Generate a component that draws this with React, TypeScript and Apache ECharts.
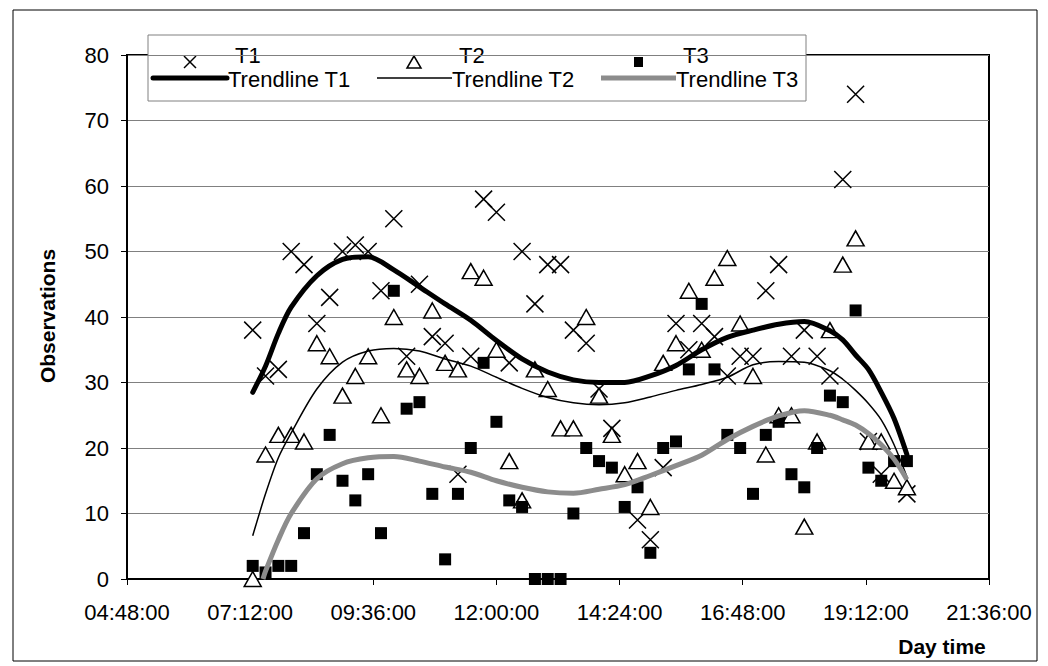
import React, { useEffect, useRef } from "react";
import * as echarts from "echarts";

// Observation slots (every 15 min)
const slotTimes = [
  "07:15", "07:30", "07:45", "08:00", "08:15", "08:30", "08:45", "09:00", "09:15", "09:30",
  "09:45", "10:00", "10:15", "10:30", "10:45", "11:00", "11:15", "11:30", "11:45", "12:00",
  "12:15", "12:30", "12:45", "13:00", "13:15", "13:30", "13:45", "14:00", "14:15", "14:30",
  "14:45", "15:00", "15:15", "15:30", "15:45", "16:00", "16:15", "16:30", "16:45", "17:00",
  "17:15", "17:30", "17:45", "18:00", "18:15", "18:30", "18:45", "19:00", "19:15", "19:30",
  "19:45", "20:00",
];

const t1Values = [
  38, 31, 32, 50, 48, 39, 43, 50, 51, 50,
  44, 55, 34, 45, 37, 36, 16, 34, 58, 56,
  33, 50, 42, 48, 48, 38, 36, 29, 23, null,
  9, 6, 17, 39, 35, 39, 37, 31, 34, 34,
  44, 48, 34, 38, 34, 31, 61, 74, 21, 16,
  null, 13,
];

const t2Values = [
  0, 19, 22, 22, 21, 36, 34, 28, 31, 34,
  25, 40, 32, 31, 41, 33, 32, 47, 46, 35,
  18, 12, 32, 29, 23, 23, 40, 28, 22, 16,
  18, 11, 33, 36, 44, 35, 46, 49, 39, 31,
  19, 25, 25, 8, 21, 38, 48, 52, 21, 21,
  15, 14,
];

const t3Values = [
  2, 1, 2, 2, 7, 16, 22, 15, 12, 16,
  7, 44, 26, 27, 13, 3, 13, 20, 33, 24,
  12, 11, 0, 0, 0, 10, 20, 18, 17, 11,
  14, 4, 20, 21, 32, 42, 32, 22, 20, 13,
  22, 24, 16, 14, 20, 28, 27, 41, 17, 15,
  18, 18,
];

// Trendlines
const trendTimes = [
  "07:15", "07:30", "07:45", "08:00", "08:30", "09:00", "09:30", "10:00", "10:30", "11:00",
  "11:30", "12:00", "12:30", "13:00", "13:30", "14:00", "14:30", "15:00", "15:30", "16:00",
  "16:30", "17:00", "17:30", "18:00", "18:30", "18:45", "19:00", "19:15", "19:30", "19:45",
  "20:00",
];
const trend1Values = [
  28.5, 32.5, 37.5, 41.5, 46.3, 48.8, 49.2, 47.2, 44.6, 42, 39.5, 36.4, 33.6, 31.6, 30.4, 30,
  30, 31, 32.6, 35, 36.9, 38, 38.9, 39.3, 37.9, 36.5, 34.2, 32, 28.5, 24.5, 19,
];
const trend2Values = [
  6.6, 13, 18.5, 22.3, 29, 33.1, 34.8, 35.2, 34.8, 33.6, 32.5, 30.8, 29.1, 27.7, 26.9, 26.6,
  26.9, 27.8, 28.8, 29.7, 30.8, 32.7, 33.2, 33.1, 31.8, 30.5, 28.8, 26.8, 24.3, 20.5, 15.6,
];
const trend3Times = [
  "07:27", "07:30", "07:45", "08:00", "08:30", "09:00", "09:30", "10:00", "10:30", "11:00",
  "11:30", "12:00", "12:30", "13:00", "13:30", "14:00", "14:30", "15:00", "15:30", "16:00",
  "16:30", "17:00", "17:30", "18:00", "18:30", "18:45", "19:00", "19:15", "19:30", "19:45",
  "20:00",
];
const trend3Values = [
  0, 1.2, 6, 10, 15.3, 17.6, 18.5, 18.7, 18, 17.1, 16.3, 15, 14, 13.3, 13.1, 13.7,
  14.4, 15.8, 17.3, 18.9, 21.3, 23.3, 24.9, 25.7, 25, 24.3, 23.5, 22.2, 20.5, 18.3, 15.2,
];

const xTickMin = 288; // 04:48
const xTickMax = 1296; // 21:36
const xTickStep = 144; // 2h24m
const yTicks = { min: 0, max: 80, step: 10 };

const toMin = (s: string) => {
  const [h, m] = s.split(":").map(Number);
  return h * 60 + m;
};
const fmt = (v: number) => {
  const h = Math.floor(v / 60);
  const m = Math.round(v % 60);
  return `${String(h).padStart(2, "0")}:${String(m).padStart(2, "0")}:00`;
};
const pairs = (times: string[], vals: (number | null)[]) =>
  times
    .map((t, i) => (vals[i] === null ? null : [toMin(t), vals[i]]))
    .filter((p) => p !== null);

const FONT = "'Liberation Sans', Arial, sans-serif";

export default function App() {
  const ref = useRef<HTMLDivElement>(null);
  useEffect(() => {
    if (!ref.current) return;
    const chart = echarts.init(ref.current, null, { renderer: "svg" });
    const legendRow1Y = 55;
    const legendRow2Y = 79;
    const col = [0, 224, 448];
    const legendItems: any[] = [
      {
        type: "rect",
        shape: { x: 148, y: 35, width: 658, height: 66 },
        style: { fill: "#fff", stroke: "#808080", lineWidth: 1 },
      },
      // T1 marker (X)
      { type: "line", shape: { x1: 184, y1: 56, x2: 196, y2: 68 }, style: { stroke: "#000", lineWidth: 1.5 } },
      { type: "line", shape: { x1: 184, y1: 68, x2: 196, y2: 56 }, style: { stroke: "#000", lineWidth: 1.5 } },
      // T2 marker (triangle)
      {
        type: "polygon",
        shape: { points: [[414, 56], [407, 68], [421, 68]] },
        style: { fill: "#fff", stroke: "#000", lineWidth: 1.5 },
      },
      // T3 marker (square)
      { type: "rect", shape: { x: 634, y: 57, width: 9, height: 10 }, style: { fill: "#000" } },
      // trendline keys
      { type: "line", shape: { x1: 153, y1: 78, x2: 227, y2: 78 }, style: { stroke: "#000", lineWidth: 5, lineCap: "round" } },
      { type: "line", shape: { x1: 377, y1: 78, x2: 452, y2: 78 }, style: { stroke: "#000", lineWidth: 1.5 } },
      { type: "line", shape: { x1: 601, y1: 78, x2: 676, y2: 78 }, style: { stroke: "#8c8c8c", lineWidth: 5 } },
    ];
    ["T1", "T2", "T3"].forEach((t, i) =>
      legendItems.push({
        type: "text",
        x: 235 + col[i],
        y: legendRow1Y,
        style: { text: t, font: `22px ${FONT}`, fill: "#000", verticalAlign: "middle", align: "left" },
      })
    );
    ["Trendline T1", "Trendline T2", "Trendline T3"].forEach((t, i) =>
      legendItems.push({
        type: "text",
        x: 228 + col[i],
        y: legendRow2Y,
        style: { text: t, font: `22px ${FONT}`, fill: "#000", verticalAlign: "middle", align: "left" },
      })
    );

    chart.setOption({
      animation: false,
      backgroundColor: "#fff",
      grid: {
        left: 127,
        top: 55,
        right: 59,
        bottom: 87,
        show: true,
        borderColor: "#000",
        borderWidth: 2,
        backgroundColor: "transparent",
      },
      xAxis: {
        type: "value",
        min: xTickMin,
        max: xTickMax,
        interval: xTickStep,
        axisLine: { show: true, onZero: false, lineStyle: { color: "#000", width: 2 } },
        axisTick: { show: true, length: 6, lineStyle: { color: "#000" } },
        splitLine: { show: false },
        axisLabel: {
          formatter: (v: number) => fmt(v),
          color: "#000",
          fontFamily: FONT,
          fontSize: 22,
          margin: 22,
        },
      },
      yAxis: {
        type: "value",
        min: yTicks.min,
        max: yTicks.max,
        interval: yTicks.step,
        axisLine: { show: true, lineStyle: { color: "#000", width: 2 } },
        axisTick: { show: true, length: 6, lineStyle: { color: "#000" } },
        splitLine: { show: true, lineStyle: { color: "#808080", width: 1 } },
        axisLabel: { color: "#000", fontFamily: FONT, fontSize: 22, margin: 18 },
      },
      graphic: [
        {
          type: "rect",
          shape: { x: 13, y: 10, width: 1024, height: 651 },
          style: { fill: "none", stroke: "#000", lineWidth: 1 },
          z: 1,
          silent: true,
        },
        {
          type: "text",
          x: 47,
          y: 316,
          rotation: Math.PI / 2,
          style: {
            text: "Observations",
            font: `bold 21px ${FONT}`,
            fill: "#000",
            align: "center",
            verticalAlign: "middle",
          },
        },
        {
          type: "text",
          x: 942,
          y: 646,
          style: {
            text: "Day time",
            font: `bold 21px ${FONT}`,
            fill: "#000",
            align: "center",
            verticalAlign: "middle",
          },
        },
        { type: "group", z: 100, children: legendItems },
      ],
      series: [
        {
          name: "T1",
          type: "scatter",
          data: pairs(slotTimes, t1Values),
          symbol: "path://M0,0L10,10M10,0L0,10",
          symbolSize: 17,
          itemStyle: { color: "#000", borderColor: "#000", borderWidth: 1.5, opacity: 1 },
          z: 3,
        },
        {
          name: "T2",
          type: "scatter",
          data: pairs(slotTimes, t2Values),
          symbol: "triangle",
          symbolSize: [17, 15],
          itemStyle: { color: "#fff", borderColor: "#000", borderWidth: 1.5, opacity: 1 },
          z: 4,
        },
        {
          name: "T3",
          type: "scatter",
          data: pairs(slotTimes, t3Values),
          symbol: "rect",
          symbolSize: 12,
          itemStyle: { color: "#000", opacity: 1 },
          z: 5,
        },
        {
          name: "Trendline T1",
          type: "line",
          data: pairs(trendTimes, trend1Values),
          showSymbol: false,
          symbol: "none",
          smooth: 0.3,
          lineStyle: { color: "#000", width: 5, cap: "round" },
          z: 6,
        },
        {
          name: "Trendline T2",
          type: "line",
          data: pairs(trendTimes, trend2Values),
          showSymbol: false,
          symbol: "none",
          smooth: 0.3,
          lineStyle: { color: "#000", width: 1.5 },
          z: 6,
        },
        {
          name: "Trendline T3",
          type: "line",
          data: pairs(trend3Times, trend3Values),
          showSymbol: false,
          symbol: "none",
          smooth: 0.3,
          lineStyle: { color: "#8c8c8c", width: 5 },
          z: 6,
        },
      ],
    });
    return () => chart.dispose();
  }, []);
  return (
    <div
      ref={ref}
      style={{ position: "absolute", left: 0, top: 0, width: 1048, height: 666, background: "#fff" }}
    />
  );
}
